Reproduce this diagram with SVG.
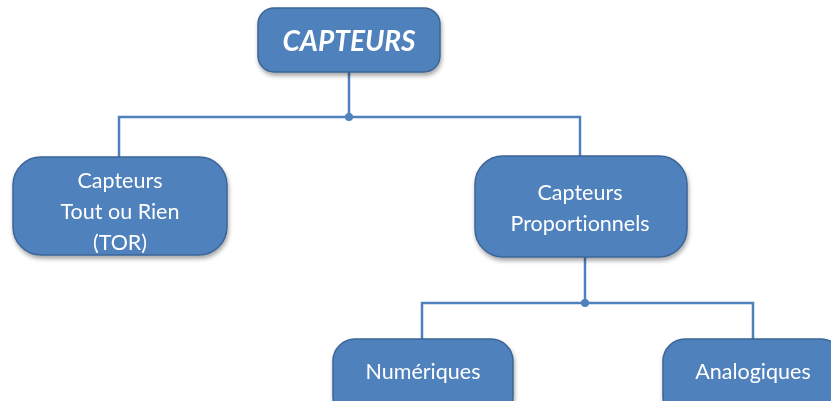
<svg xmlns="http://www.w3.org/2000/svg" width="831" height="401" viewBox="0 0 831 401">
<style>
.box{fill:#4F81BD;stroke:#3B6596;stroke-width:1.5}
.t{fill:#fff;font-family:Lato,"Open Sans","Liberation Sans",sans-serif;font-size:21.5px;text-anchor:middle;dominant-baseline:central;font-variant-ligatures:none}
.title{font-size:28px;font-weight:bold;font-style:italic}
.c{fill:none;stroke:#4F81BD;stroke-width:2.5}
.dot{fill:#4F81BD}
</style>
<defs>
<filter id="sh" x="-10%" y="-10%" width="130%" height="140%">
<feDropShadow dx="1" dy="3" stdDeviation="2" flood-color="#000" flood-opacity="0.35"/>
</filter>
</defs>
<rect width="831" height="401" fill="#fff"/>
<g id="connectors">
<path class="c" d="M349 72 V117 M119 157 V117 H580 V156"/>
<circle class="dot" cx="349" cy="117" r="4"/>
<path class="c" d="M585 257 V303 M422 339 V303 H753 V339"/>
<circle class="dot" cx="585" cy="303" r="4"/>
</g>
<g id="capteurs" filter="url(#sh)">
<rect class="box" x="258" y="8" width="182" height="64" rx="16"/>
<text class="t title" x="349" y="40">CAPTEURS</text>
</g>
<g id="tor" filter="url(#sh)">
<rect class="box" x="13" y="157" width="214" height="98" rx="28"/>
<text class="t" x="120" y="180">Capteurs</text>
<text class="t" x="120" y="211">Tout ou Rien</text>
<text class="t" x="120" y="242">(TOR)</text>
</g>
<g id="proportionnels" filter="url(#sh)">
<rect class="box" x="475" y="156" width="212" height="101" rx="28"/>
<text class="t" x="580" y="192">Capteurs</text>
<text class="t" x="580" y="223">Proportionnels</text>
</g>
<g id="numeriques" filter="url(#sh)">
<rect class="box" x="333" y="339" width="180" height="80" rx="22"/>
<text class="t" x="423" y="371">Numériques</text>
</g>
<g id="analogiques" filter="url(#sh)">
<rect class="box" x="663" y="339" width="180" height="80" rx="22"/>
<text class="t" x="753" y="371">Analogiques</text>
</g>
</svg>
